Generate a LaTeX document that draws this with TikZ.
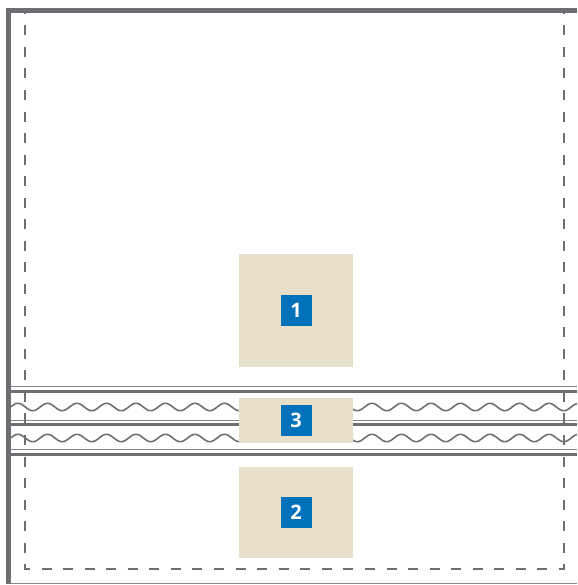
\documentclass[tikz,border=0pt]{standalone}
\usepackage{fontspec}
\setsansfont{Open Sans}
\usetikzlibrary{positioning}
\definecolor{wallGrey}{HTML}{6d6e71}
\definecolor{sand}{HTML}{e8dfcb}
\definecolor{tagBlue}{HTML}{0071bb}
\tikzset{
  wall/.style={draw=wallGrey, line width=4.6pt},
  seam/.style={draw=wallGrey, line width=3.4pt},
  skin/.style={draw=wallGrey!85, line width=1.3pt},
  ripple/.style={draw=wallGrey, line width=1.6pt},
  outline/.style={draw=wallGrey, line width=2pt,
              dash pattern=on 10pt off 11.56pt, dash phase=8.26pt},
  zone/.style={fill=sand, inner sep=0pt, minimum width=114pt},
  tag/.style={fill=tagBlue, text=white, inner sep=0pt, minimum size=31pt,
              font=\sffamily\bfseries\fontsize{20}{20}\selectfont},
}

\begin{document}
\begin{tikzpicture}[x=1pt,y=-1pt]
    \useasboundingbox (0,0) rectangle (577,585);
    % layer stack
    \draw[skin] (11,386.5) -- (577,386.5);
    \draw[seam] (11,391.7) -- (577,391.7);
    \draw[ripple] plot[domain=11:577, samples=400] (\x, {407 - 3.7*cos((\x-18)*12.2034)});
    \draw[skin] (11,420.2) -- (577,420.2);
    \draw[seam] (11,424.7) -- (577,424.7);
    \draw[ripple] plot[domain=11:577, samples=400] (\x, {438 - 3.7*cos((\x-18)*12.2034)});
    \draw[skin] (11,449.2) -- (577,449.2);
    \draw[seam] (11,454.3) -- (577,454.3);
    % outline and wall
    \draw[outline] (25,12) -- (25,569.3) -- (564,569.3) -- (564,12);
    \draw[skin,line width=1pt] (8.5,583.5) -- (577,583.5);
    \draw[wall] (8.5,583.5) -- (8.5,10.5) -- (577,10.5);
    % zones
    \node[zone,minimum height=113pt] (box1) at (296,310.5) {};
    \node[zone,minimum height=45pt] (box3) at (296,420.5) {};
    \node[zone,minimum height=91pt] (box2) at (296,512.3) {};
    \node[tag] (tag1) at (box1.center) {1};
    \node[tag] (tag3) at (box3.center) {3};
    \node[tag] (tag2) at (box2.center) {2};
\end{tikzpicture}
\end{document}
